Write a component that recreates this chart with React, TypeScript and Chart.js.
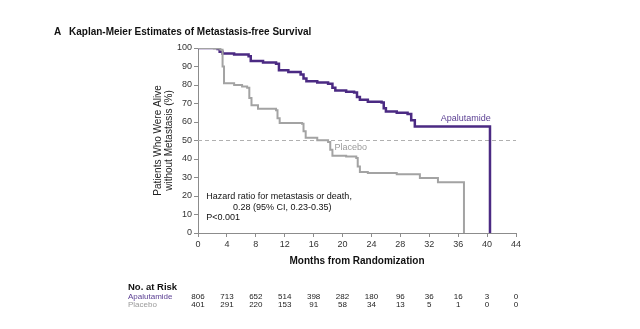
import React, { useEffect, useRef } from "react";
import { Chart, registerables } from "chart.js";

Chart.register(...registerables);

const FONT = '"Liberation Sans", Arial, Helvetica, sans-serif';

// Kaplan-Meier step points (month, % metastasis-free)
const apaMonths = [0, 2.7, 3.0, 3.4, 5.0, 7.0, 7.3, 9.0, 10.8, 11.2, 12.5, 14.2, 14.6, 15.0, 16.5, 18.0, 18.6, 19.0, 20.5, 21.6, 22.0, 22.4, 23.5, 25.4, 25.7, 26.0, 27.5, 29.0, 29.5, 30.0, 40.4];
const apaSurv = [100, 99.5, 98, 97, 96.5, 95.5, 93, 92.2, 91.5, 88, 87, 85.7, 83.5, 82, 81.3, 80.7, 78.5, 77, 76.4, 76, 73.5, 72, 71, 70.5, 67.5, 65.7, 65, 64.3, 61, 57.6, 0];

const plaMonths = [0, 2.2, 3.1, 3.4, 3.6, 5.0, 6.1, 6.8, 7.1, 7.4, 8.3, 10.8, 11.0, 11.3, 14.4, 14.6, 14.9, 16.5, 18.0, 18.3, 18.6, 20.5, 21.9, 22.1, 22.4, 23.5, 27.5, 30.7, 33.2, 36.8];
const plaSurv = [100, 99.7, 99, 90, 81, 80, 79.2, 78.5, 73, 69, 67.2, 66.3, 62, 59.5, 59, 55, 51.5, 50.2, 49.2, 45, 41.8, 41.4, 40.5, 36, 33, 32.5, 31.8, 29.7, 27.4, 13.5];
const plaEnd = 36.8;

const medianLevel = 50;

// Number at risk
const riskMonths = [0, 4, 8, 12, 16, 20, 24, 28, 32, 36, 40, 44];
const riskApa = [806, 713, 652, 514, 398, 282, 180, 96, 36, 16, 3, 0];
const riskPla = [401, 291, 220, 153, 91, 58, 34, 13, 5, 1, 0, 0];

const PURPLE = "#4b2a83";
const GRAY = "#a3a3a3";

const overlay = {
  id: "overlay",
  afterDraw(chart: any) {
    const { ctx, scales } = chart;
    const x = scales.x;
    const y = scales.y;
    ctx.save();
    ctx.textBaseline = "middle";
    ctx.textAlign = "left";

    // Panel title
    ctx.fillStyle = "#111";
    ctx.font = `bold 10px ${FONT}`;
    ctx.fillText("A", 54, 32);
    ctx.fillText("Kaplan-Meier Estimates of Metastasis-free Survival", 69, 32);

    // Curve labels
    ctx.font = `9px ${FONT}`;
    ctx.fillStyle = "#5a3e92";
    ctx.fillText("Apalutamide", x.getPixelForValue(33.6), y.getPixelForValue(61.8));
    ctx.fillStyle = "#9a9a9a";
    ctx.fillText("Placebo", x.getPixelForValue(18.9), y.getPixelForValue(46));

    // Hazard ratio annotation
    ctx.fillStyle = "#111";
    ctx.fillText("Hazard ratio for metastasis or death,", x.getPixelForValue(1.15), y.getPixelForValue(19.5));
    ctx.fillText("0.28 (95% CI, 0.23-0.35)", x.getPixelForValue(4.85), y.getPixelForValue(13.9));
    ctx.fillText("P<0.001", x.getPixelForValue(1.15), y.getPixelForValue(8.5));

    // Number at risk table
    ctx.font = `bold 9.5px ${FONT}`;
    ctx.fillStyle = "#111";
    ctx.fillText("No. at Risk", 128, 287);
    ctx.font = `8px ${FONT}`;
    ctx.fillStyle = "#5a3e92";
    ctx.fillText("Apalutamide", 128, 297);
    ctx.fillStyle = "#9a9a9a";
    ctx.fillText("Placebo", 128, 304.5);
    ctx.textAlign = "center";
    ctx.fillStyle = "#222";
    riskMonths.forEach((m, i) => {
      const px = x.getPixelForValue(m);
      ctx.fillText(String(riskApa[i]), px, 297);
      ctx.fillText(String(riskPla[i]), px, 304.5);
    });
    ctx.restore();
  },
};

export default function App() {
  const ref = useRef<HTMLCanvasElement | null>(null);

  useEffect(() => {
    if (!ref.current) return;
    Chart.defaults.font.family = FONT;
    const apaData = apaMonths.map((m, i) => ({ x: m, y: apaSurv[i] }));
    const plaData = plaMonths.map((m, i) => ({ x: m, y: plaSurv[i] }));
    plaData.push({ x: plaEnd, y: 0 });
    const chart = new Chart(ref.current, {
      type: "line",
      data: {
        datasets: [
          {
            label: "Placebo",
            data: plaData,
            borderColor: GRAY,
            borderWidth: 2,
            pointRadius: 0,
            stepped: "before",
            fill: false,
          },
          {
            label: "Apalutamide",
            data: apaData,
            borderColor: PURPLE,
            borderWidth: 2.5,
            pointRadius: 0,
            stepped: "before",
            fill: false,
          },
          {
            label: "Median",
            data: [
              { x: 0, y: medianLevel },
              { x: 44, y: medianLevel },
            ],
            borderColor: "#b0b0b0",
            borderWidth: 1,
            borderDash: [4, 3],
            pointRadius: 0,
            fill: false,
          },
        ],
      },
      options: {
        responsive: false,
        animation: false,
        events: [],
        layout: { padding: { left: 0, top: 48, right: 124, bottom: 62 } },
        plugins: { legend: { display: false }, tooltip: { enabled: false } },
        scales: {
          x: {
            type: "linear",
            min: 0,
            max: 44,
            afterFit: (s: any) => {
              s.height = 34;
            },
            ticks: { stepSize: 4, color: "#333", font: { size: 9 }, padding: 2, maxRotation: 0 },
            grid: { drawOnChartArea: false, drawTicks: true, tickLength: 4, color: "#8c8c8c" },
            border: { color: "#8c8c8c" },
            title: {
              display: true,
              text: "Months from Randomization",
              color: "#111",
              font: { size: 10, weight: "bold" },
              padding: { top: 0, bottom: 0 },
            },
          },
          y: {
            type: "linear",
            min: 0,
            max: 100,
            afterFit: (s: any) => {
              s.width = 198;
            },
            ticks: { stepSize: 10, color: "#333", font: { size: 9 }, padding: 2 },
            grid: { drawOnChartArea: false, drawTicks: true, tickLength: 4, color: "#8c8c8c" },
            border: { color: "#8c8c8c" },
            title: {
              display: true,
              text: ["Patients Who Were Alive", "without Metastasis (%)"],
              color: "#222",
              font: { size: 10, lineHeight: 1.1 },
              padding: { top: 152.5, bottom: 0 },
            },
          },
        },
      },
      plugins: [overlay],
    });
    return () => chart.destroy();
  }, []);

  return (
    <div style={{ position: "fixed", left: 0, top: 0, width: 640, height: 329, background: "#fff" }}>
      <canvas ref={ref} width={640} height={329} style={{ width: 640, height: 329, display: "block" }} />
    </div>
  );
}
